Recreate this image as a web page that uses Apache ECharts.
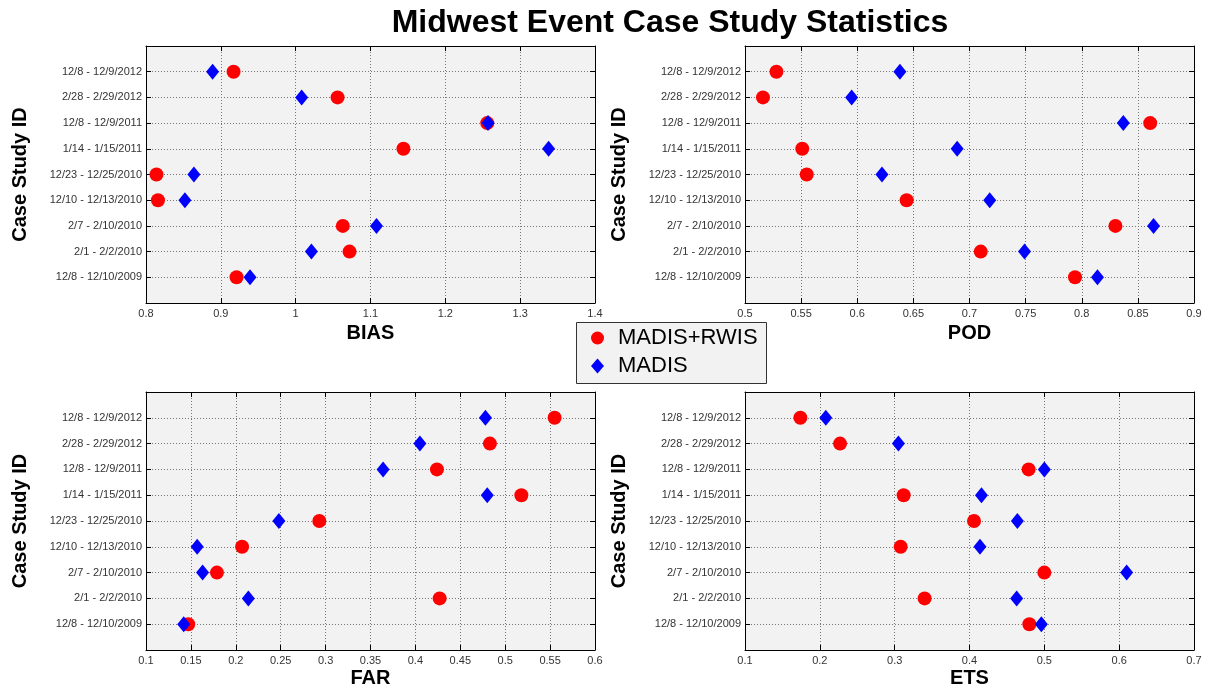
<!DOCTYPE html>
<html>
<head>
<meta charset="utf-8">
<script src="https://cdn.jsdelivr.net/npm/echarts@6/dist/echarts.min.js"></script>
<style>
html,body{margin:0;padding:0;background:#fff;}
#c{width:1208px;height:691px;}
</style>
</head>
<body>
<div id="c"></div>
<script>
// Categories, bottom to top
var cases = ['12/8 - 12/10/2009','2/1 - 2/2/2010','2/7 - 2/10/2010','12/10 - 12/13/2010','12/23 - 12/25/2010','1/14 - 1/15/2011','12/8 - 12/9/2011','2/28 - 2/29/2012','12/8 - 12/9/2012'];
var seriesNames = ['MADIS+RWIS', 'MADIS'];

var biasRwis = [0.921, 1.072, 1.063, 0.816, 0.814, 1.144, 1.256, 1.056, 0.917];
var biasMadis = [0.939, 1.021, 1.108, 0.852, 0.864, 1.338, 1.257, 1.008, 0.889];

var podRwis = [0.794, 0.710, 0.830, 0.644, 0.555, 0.551, 0.861, 0.516, 0.528];
var podMadis = [0.814, 0.749, 0.864, 0.718, 0.622, 0.689, 0.837, 0.595, 0.638];

var farRwis = [0.147, 0.427, 0.179, 0.207, 0.293, 0.518, 0.424, 0.483, 0.555];
var farMadis = [0.142, 0.214, 0.163, 0.157, 0.248, 0.480, 0.364, 0.405, 0.478];

var etsRwis = [0.480, 0.340, 0.500, 0.308, 0.406, 0.312, 0.479, 0.227, 0.174];
var etsMadis = [0.496, 0.463, 0.610, 0.414, 0.464, 0.416, 0.500, 0.305, 0.208];

var panels = [
  {name: 'BIAS', min: 0.8, max: 1.4, interval: 0.1, rwis: biasRwis, madis: biasMadis},
  {name: 'POD', min: 0.5, max: 0.9, interval: 0.05, rwis: podRwis, madis: podMadis},
  {name: 'FAR', min: 0.1, max: 0.6, interval: 0.05, rwis: farRwis, madis: farMadis},
  {name: 'ETS', min: 0.1, max: 0.7, interval: 0.1, rwis: etsRwis, madis: etsMadis}
];

var grids = [
  {left: 146, top: 46, width: 449, height: 257},
  {left: 745, top: 46, width: 449, height: 257},
  {left: 146, top: 392, width: 449, height: 258},
  {left: 745, top: 392, width: 449, height: 258}
];
var nameGaps = [20, 20, 18, 18];

var yCats = [''].concat(cases).concat([' ']);
var lineStyleAxis = {color: '#000', width: 1};
var tickFont = {fontSize: 11, color: '#333', fontFamily: 'Liberation Sans, Arial, sans-serif'};

var option = {
  backgroundColor: '#fff',
  animation: false,
  title: {
    text: 'Midwest Event Case Study Statistics',
    left: 670, top: 7, padding: 0, textAlign: 'center',
    textStyle: {fontSize: 32, fontWeight: 'bold', color: '#000', fontFamily: 'Liberation Sans, Arial, sans-serif'}
  },
  graphic: [{
    type: 'rect', z: 0, left: 576, top: 322,
    shape: {width: 190, height: 61},
    style: {fill: '#f2f2f2', stroke: '#333', lineWidth: 1}
  }],
  legend: {
    z: 10, orient: 'vertical', left: 591, top: 326, padding: 0, itemGap: 4,
    itemWidth: 13, itemHeight: 15,
    data: [{name: seriesNames[0], icon: 'circle', itemStyle: {color: '#ff0000'}},
           {name: seriesNames[1], icon: 'diamond', itemStyle: {color: '#0000ff'}}],
    formatter: function (n) { return '{g|}' + n; },
    textStyle: {fontSize: 22, lineHeight: 24, color: '#000', fontFamily: 'Liberation Sans, Arial, sans-serif',
      rich: {g: {width: 9}}},
    selectedMode: false
  },
  grid: grids.map(function (g) {
    return {left: g.left, top: g.top, width: g.width, height: g.height, show: true,
      backgroundColor: '#f2f2f2', borderWidth: 0};
  }),
  xAxis: [],
  yAxis: [],
  series: []
};

panels.forEach(function (p, i) {
  option.xAxis.push({
    type: 'value', gridIndex: i, min: p.min, max: p.max, interval: p.interval, position: 'bottom',
    name: p.name, nameLocation: 'middle', nameGap: nameGaps[i],
    nameTextStyle: {fontSize: 20, fontWeight: 'bold', color: '#000', fontFamily: 'Liberation Sans, Arial, sans-serif'},
    axisLine: {show: true, onZero: false, lineStyle: lineStyleAxis},
    axisTick: {show: true, inside: true, length: 5, lineStyle: lineStyleAxis},
    axisLabel: Object.assign({margin: 5}, tickFont),
    splitLine: {show: true, lineStyle: {color: '#777', width: 1, type: [1, 2]}}
  });
  option.xAxis.push({
    type: 'value', gridIndex: i, min: p.min, max: p.max, interval: p.interval, position: 'top',
    axisLine: {show: true, onZero: false, lineStyle: lineStyleAxis},
    axisTick: {show: true, inside: true, length: 5, lineStyle: lineStyleAxis},
    axisLabel: {show: false}, splitLine: {show: false}
  });
  option.yAxis.push({
    type: 'category', gridIndex: i, data: yCats, boundaryGap: false, position: 'left',
    name: 'Case Study ID', nameLocation: 'middle', nameGap: 116,
    nameTextStyle: {fontSize: 20, fontWeight: 'bold', color: '#000', fontFamily: 'Liberation Sans, Arial, sans-serif'},
    axisLine: {show: true, onZero: false, lineStyle: lineStyleAxis},
    axisTick: {show: true, inside: true, length: 5, interval: 0, lineStyle: lineStyleAxis},
    axisLabel: Object.assign({margin: 4, interval: 0}, tickFont),
    splitLine: {show: true, interval: 0, lineStyle: {color: '#777', width: 1, type: [1, 2]}}
  });
  option.yAxis.push({
    type: 'category', gridIndex: i, data: yCats, boundaryGap: false, position: 'right',
    axisLine: {show: true, onZero: false, lineStyle: lineStyleAxis},
    axisTick: {show: true, inside: true, length: 5, interval: 0, lineStyle: lineStyleAxis},
    axisLabel: {show: false}, splitLine: {show: false}
  });
  option.series.push({
    type: 'scatter', name: seriesNames[0], xAxisIndex: i * 2, yAxisIndex: i * 2,
    symbol: 'circle', symbolSize: 14, itemStyle: {color: '#ff0000', opacity: 1}, z: 3,
    data: p.rwis.map(function (v, k) { return [v, cases[k]]; })
  });
  option.series.push({
    type: 'scatter', name: seriesNames[1], xAxisIndex: i * 2, yAxisIndex: i * 2,
    symbol: 'diamond', symbolSize: [13, 16], itemStyle: {color: '#0000ff', opacity: 1}, z: 4,
    data: p.madis.map(function (v, k) { return [v, cases[k]]; })
  });
});

var chart = echarts.init(document.getElementById('c'), null, {renderer: 'canvas'});
chart.setOption(option);
</script>
</body>
</html>
